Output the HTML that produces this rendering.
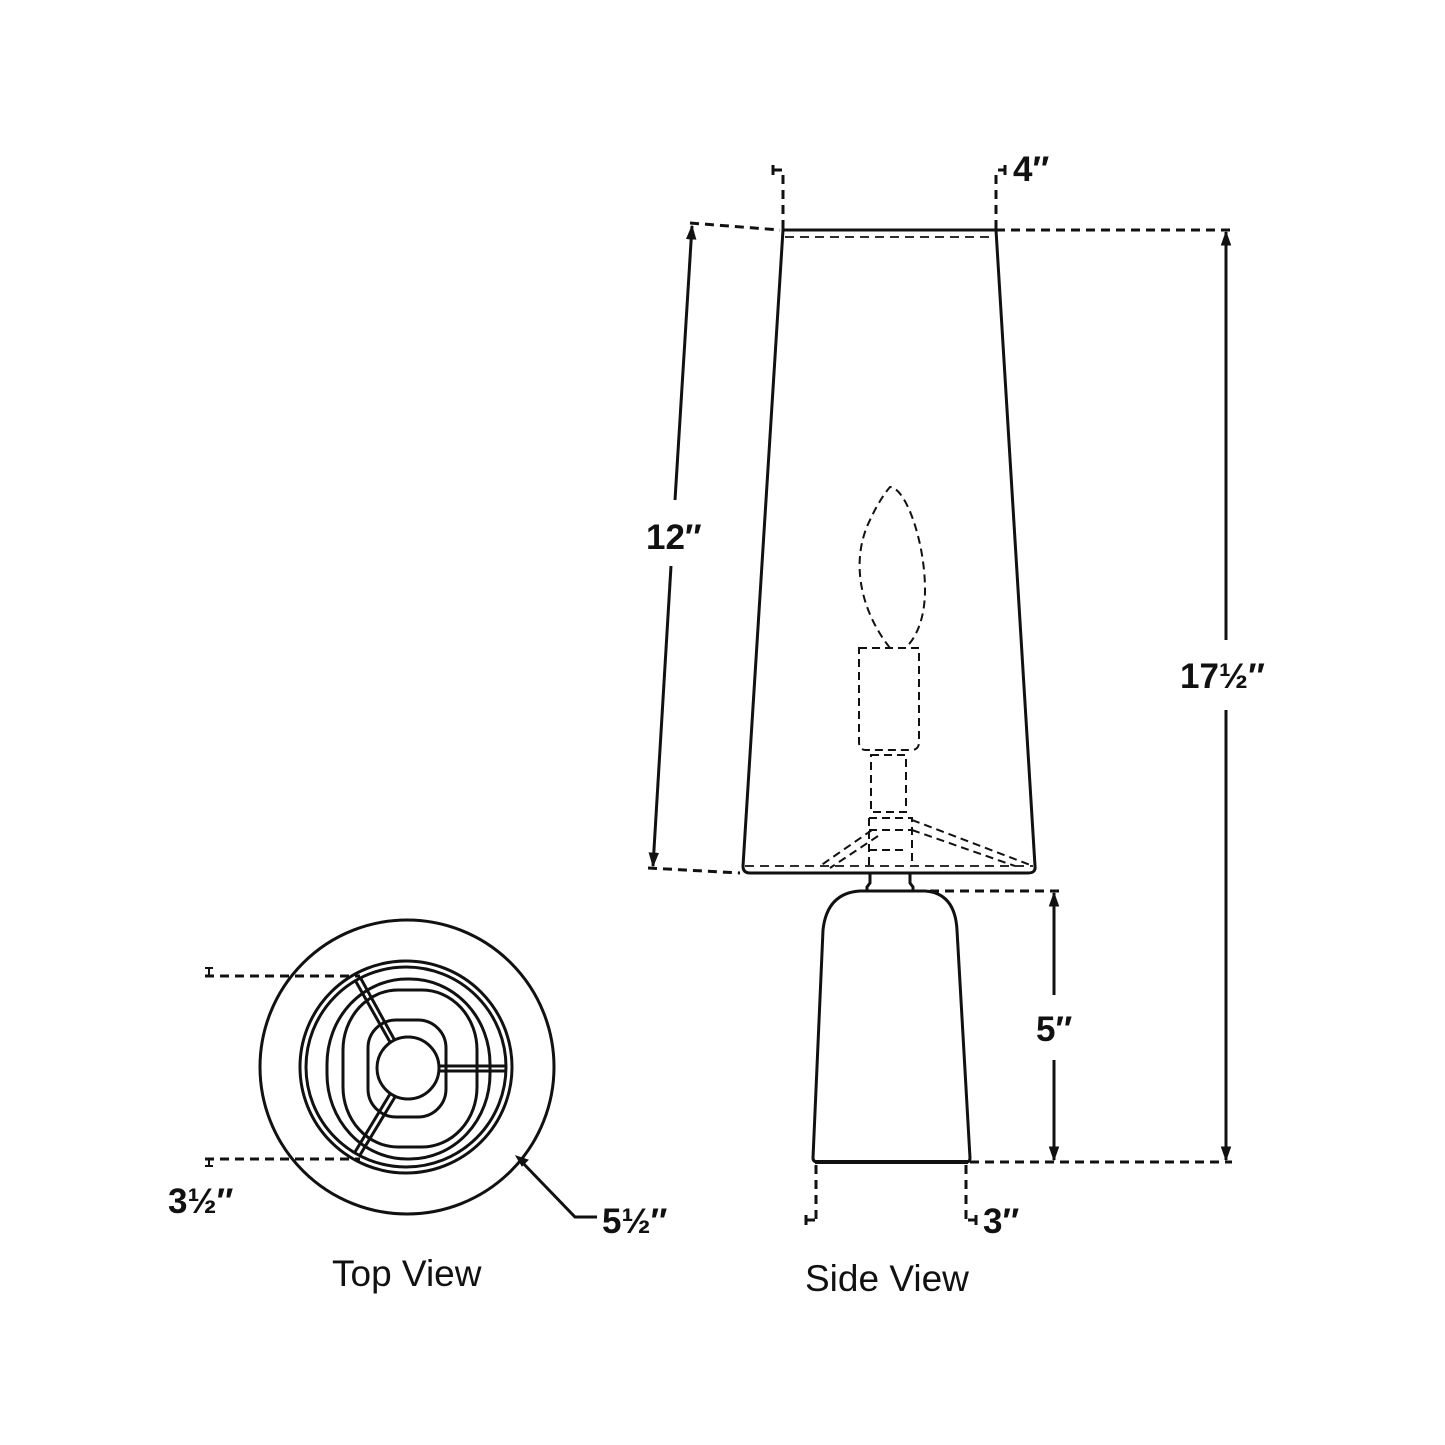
<!DOCTYPE html>
<html><head><meta charset="utf-8"><style>
html,body{margin:0;padding:0;background:#fff;}
svg{display:block;}
text{font-family:"Liberation Sans",sans-serif;fill:#111;}
</style></head><body>
<svg width="1445" height="1445" viewBox="0 0 1445 1445" xmlns="http://www.w3.org/2000/svg">
<defs>
<marker id="ar" viewBox="0 0 10 10" refX="9" refY="5" markerWidth="5" markerHeight="5" orient="auto-start-reverse"><path d="M0,1.5 L10,5 L0,8.5 Z" fill="#111"/></marker>
</defs>
<g stroke="#111" fill="none" stroke-width="3">
<path d="M783,230 L996,230 L1035,866 Q1036,873 1028,873 L750,873 Q743,873 743,866 Z"/>
<line x1="785" y1="237" x2="994" y2="237" stroke-dasharray="9,6" stroke-width="1.8"/>
<line x1="745" y1="866" x2="1033" y2="866" stroke-dasharray="9,6" stroke-width="1.8"/>
<g stroke-dasharray="8,5" stroke-width="2">
<path d="M890,648 C860,610 850,560 870,520 C880,498 890,487 890,487 C905,487 925,540 925,590 C925,620 915,640 905,648"/>
<path d="M859,648 L919,648 L919,742 Q919,750 911,750 L866,750 Q859,750 859,742 Z"/>
<path d="M871,755 L906,755 L906,812 L871,812 Z"/>
<path d="M869,818 L912,818 L912,866"/>
<path d="M869,818 L869,866"/>
<path d="M872,830 L820,866"/>
<path d="M878,836 L830,868"/>
<path d="M912,820 L1033,866"/>
<path d="M912,830 L1015,866"/>
<line x1="869" y1="830" x2="912" y2="830"/>
<line x1="869" y1="850" x2="908" y2="850"/>
</g>
<path d="M870,873 L870,883 L867,887 L867,891 L913,891 L913,887 L910,883 L910,873"/>
<path d="M860,891 L925,891 Q955,893 957,930 L970,1158 Q970,1162 966,1162 L818,1162 Q813,1162 813,1158 L823,930 Q827,893 860,891 Z"/>
<line x1="815" y1="1162" x2="968" y2="1162" stroke-width="4"/>
<g stroke-dasharray="9,6"><line x1="783" y1="175" x2="783" y2="230"/><line x1="996" y1="175" x2="996" y2="230"/>
<line x1="996" y1="230" x2="1230" y2="230"/><line x1="690" y1="223" x2="780" y2="230"/><line x1="648" y1="868" x2="740" y2="873"/>
<line x1="930" y1="891" x2="1060" y2="891"/><line x1="970" y1="1162" x2="1232" y2="1162"/>
<line x1="816" y1="1165" x2="816" y2="1222"/><line x1="966" y1="1165" x2="966" y2="1222"/>
<line x1="205" y1="976" x2="360" y2="976"/><line x1="205" y1="1159" x2="360" y2="1159"/>
</g>
<path d="M772,170 L782,170 M773,165 L773,175" stroke-width="3"/>
<path d="M1006,170 L998,170 M1005,165 L1005,175" stroke-width="3"/>
<path d="M805,1220 L815,1220 M806,1215 L806,1225" stroke-width="3"/>
<path d="M977,1220 L968,1220 M976,1215 L976,1225" stroke-width="3"/>
<line x1="1226" y1="640" x2="1226" y2="232" marker-end="url(#ar)"/>
<line x1="1226" y1="710" x2="1226" y2="1160" marker-end="url(#ar)"/>
<line x1="675" y1="500" x2="692" y2="226" marker-end="url(#ar)"/>
<line x1="671" y1="566" x2="653" y2="866" marker-end="url(#ar)"/>
<line x1="1054" y1="995" x2="1054" y2="893" marker-end="url(#ar)"/>
<line x1="1054" y1="1060" x2="1054" y2="1160" marker-end="url(#ar)"/>
<circle cx="407" cy="1067" r="147"/>
<circle cx="406" cy="1067" r="106"/>
<circle cx="406" cy="1067" r="100"/>
<rect x="327" y="979" width="163" height="180" rx="80" ry="85"/>
<rect x="343" y="990" width="134" height="157" rx="55" ry="60"/>
<rect x="368" y="1020" width="78" height="97" rx="28"/>
<circle cx="408" cy="1068" r="31" fill="#fff"/>
<path d="M439,1066 L505,1066 M439,1071 L505,1071"/>
<path d="M390,1042 L355,980 M394,1039 L360,977"/>
<path d="M390,1094 L355,1152 M395,1097 L360,1155"/>
<path d="M205,968 L213,968 M209,968 L209,976" stroke-width="2"/>
<path d="M205,1166 L213,1166 M209,1159 L209,1166" stroke-width="2"/>
<path d="M597,1217 L575,1217 L520,1160" />
<path d="M516,1156 L528,1160 L522,1166 Z" fill="#111" stroke-width="1"/>
</g>
<g font-size="35" font-weight="bold">
<text x="1013" y="181">4″</text>
<text x="646" y="549">12″</text>
<text x="1180" y="688">17½″</text>
<text x="1036" y="1041">5″</text>
<text x="983" y="1233">3″</text>
<text x="168" y="1213">3½″</text>
<text x="602" y="1233">5½″</text>
</g>
<g font-size="37">
<text x="332" y="1286">Top View</text>
<text x="805" y="1291">Side View</text>
</g>
</svg>
</body></html>
